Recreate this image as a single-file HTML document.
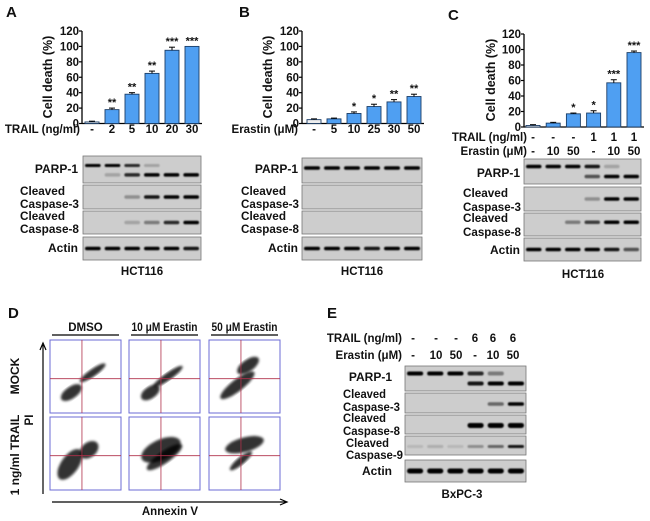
<!DOCTYPE html>
<html><head><meta charset="utf-8"><style>
body{margin:0;background:#fff;}
svg{display:block;font-family:"Liberation Sans",Arial,sans-serif;font-weight:bold;}
</style></head><body>
<svg id="fig" width="650" height="521" viewBox="0 0 650 521" xmlns="http://www.w3.org/2000/svg">
<defs>
<filter id="bl" x="-20%" y="-100%" width="140%" height="300%"><feGaussianBlur stdDeviation="0.9"/></filter>
<filter id="bl2"><feGaussianBlur stdDeviation="1.2"/></filter>
</defs>
<g id="root"></g>
</svg>
<script>
// ---- chart data ----
const catsA = ["-","2","5","10","20","30"];
const valsA = [2,18,38,65,95,100];
const errA = [1,2,2,3,4,0];
const starsA = ["","**","**","**","***","***"];
const catsB = ["-","5","10","25","30","50"];
const valsB = [5,6,13,22,28,35];
const errB = [1,1,2,3,3,3];
const starsB = ["","","*","*","**","**"];
const trailC = ["-","-","-","1","1","1"];
const erasC = ["-","10","50","-","10","50"];
const valsC = [2,5,17,18,57,96];
const errC = [1,1,1,3,4,2];
const starsC = ["","","*","*","***","***"];
const yTicks = [0,20,40,60,80,100,120];

const NS="http://www.w3.org/2000/svg";
const root=document.getElementById('root');
function el(tag,attrs,parent,txt){const e=document.createElementNS(NS,tag);for(const k in attrs)e.setAttribute(k,attrs[k]);if(txt!==undefined)e.textContent=txt;(parent||root).appendChild(e);return e;}

function text(x,y,s,size,anchor,parent,rot){
  const t=el('text',{x:x,y:y,'font-size':size,'text-anchor':anchor||'start',fill:'#111'},parent,s);
  if(rot)t.setAttribute('transform','rotate('+rot+' '+x+' '+y+')');
  return t;
}

function barChart(name,ax,y0,ytop,x0,dx,vals,errs,stars){
  const g=el('g',{});
  
  
  const sc=(y0-ytop)/120;
  const Y=v=>y0-v*sc;
  const X=i=>x0+i*dx;
  el('line',{x1:ax,y1:ytop,x2:ax,y2:y0,stroke:'#000','stroke-width':1.3},g);
  el('line',{x1:ax,y1:y0,x2:X(vals.length-1)+10,y2:y0,stroke:'#000','stroke-width':1.3},g);
  yTicks.forEach(t=>{
    el('line',{x1:ax-3,y1:Y(t),x2:ax,y2:Y(t),stroke:'#000','stroke-width':1.2},g);
    const lab=text(ax-3,Y(t)+4,String(t),11.5,'end',g);
    
    
  });
  vals.forEach((v,i)=>{
    const b=el('rect',{x:X(i)-7,y:Y(v),width:14,height:Math.max(0.5,v*sc),fill:i==0?'#eee':'#4f9ff2',stroke:'#1b3d66','stroke-width':0.9},g);
    
    
    const e=errs[i];
    if(e>0){el('line',{x1:X(i),y1:Y(v),x2:X(i),y2:Y(v+e),stroke:'#000','stroke-width':1},g);
      el('line',{x1:X(i)-3,y1:Y(v+e),x2:X(i)+3,y2:Y(v+e),stroke:'#000','stroke-width':1},g);}
    if(stars[i]){const s=text(X(i),Y(v+e)-2,stars[i],11,'middle',g);
      
      }
  });
  return {X,g};
}

[["A",6,17],["B",239,17],["C",448,20],["D",8,318],["E",327,318]].forEach(p=>{
  const t=text(p[1],p[2],p[0],15,'start');
  
  
});

const A=barChart('bar-chart-a',82,123.5,31,92,20,valsA,errA,starsA);
let t=text(52,77,"Cell death (%)",12.5,'middle',A.g,-90);


t=text(80,133,"TRAIL (ng/ml)",11.5,'end',A.g);


catsA.forEach((c,i)=>{const l=text(A.X(i),133,c,11.5,'middle',A.g);
  
  });

const B=barChart('bar-chart-b',302,123.5,31,314,20,valsB,errB,starsB);
t=text(272,77,"Cell death (%)",12.5,'middle',B.g,-90);


t=text(298,133,"Erastin (\u03BCM)",11.5,'end',B.g);


catsB.forEach((c,i)=>{const l=text(B.X(i),133,c,11.5,'middle',B.g);
  
  });

const C=barChart('bar-chart-c',524,127,34,533,20.2,valsC,errC,starsC);
t=text(495,80,"Cell death (%)",12.5,'middle',C.g,-90);


t=text(527,141,"TRAIL (ng/ml)",11.5,'end',C.g);


t=text(527,155,"Erastin (\u03BCM)",11.5,'end',C.g);


trailC.forEach((c,i)=>{const l=text(C.X(i),141,c,11.5,'middle',C.g);
  
  });
erasC.forEach((c,i)=>{const l=text(C.X(i),155,c,11.5,'middle',C.g);
  
  });

function blotBox(name,x,y,w,h,n,bands){
  const g=el('g',{});
  
  
  el('rect',{x:x,y:y,width:w,height:h,fill:'#cdcdcd',stroke:'#777','stroke-width':0.8},g);
  const lw=w/n;
  bands.forEach(b=>{
    b[1].forEach((v,i)=>{ if(v<=0)return;
      el('rect',{x:x+i*lw+2,y:y+h*b[0]-b[2]/2,width:lw-4,height:b[2],rx:b[2]/2,fill:'#000',opacity:v,filter:'url(#bl)'},g);
    });
  });
  return g;
}
function lbl(x,y,s,anchor,name,size){const l=text(x,y,s,size||11.5,anchor);
  
  
  return l;}
function fit(l,w){l.setAttribute('textLength',w);l.setAttribute('lengthAdjust','spacingAndGlyphs');}

lbl(78,173,"PARP-1",'end','parp1-label',12);
fit(lbl(20,195,"Cleaved",'start','cleaved-label'),45);
fit(lbl(20,208,"Caspase-3",'start','caspase3-label'),59);
fit(lbl(20,220,"Cleaved",'start','cleaved-label'),45);
fit(lbl(20,233,"Caspase-8",'start','caspase8-label'),59);
lbl(78,252,"Actin",'end','actin-label',12);
lbl(142,275,"HCT116",'middle','cell-line-label');
blotBox('blot-a-parp1',83,156,118,27,6,[[0.35,[1,1,0.8,0.2,0,0],3],[0.7,[0,0.2,0.8,1,1,1],3.5]]);
blotBox('blot-a-casp3',83,185,118,24,6,[[0.5,[0,0,0.3,0.9,1,1],3.5]]);
blotBox('blot-a-casp8',83,211,118,23,6,[[0.5,[0,0,0.2,0.4,0.8,1],3.5]]);
blotBox('blot-a-actin',83,237,118,23,6,[[0.5,[1,1,1,1,1,0.9],3.5]]);

lbl(298,173,"PARP-1",'end','parp1-label',12);
fit(lbl(241,195,"Cleaved",'start','cleaved-label'),45);
fit(lbl(241,208,"Caspase-3",'start','caspase3-label'),58);
fit(lbl(241,220,"Cleaved",'start','cleaved-label'),45);
fit(lbl(241,233,"Caspase-8",'start','caspase8-label'),58);
lbl(298,252,"Actin",'end','actin-label',12);
lbl(362,275,"HCT116",'middle','cell-line-label');
blotBox('blot-b-parp1',302,158,120,25,6,[[0.4,[1,1,1,1,1,1],3.5]]);
blotBox('blot-b-casp3',302,185,120,24,6,[]);
blotBox('blot-b-casp8',302,211,120,23,6,[]);
blotBox('blot-b-actin',302,237,120,23,6,[[0.5,[1,1,1,0.9,1,1],3.5]]);

lbl(520,177,"PARP-1",'end','parp1-label',12);
fit(lbl(463,197,"Cleaved",'start','cleaved-label'),45);
fit(lbl(463,211,"Caspase-3",'start','caspase3-label'),58);
fit(lbl(463,222,"Cleaved",'start','cleaved-label'),45);
fit(lbl(463,236,"Caspase-8",'start','caspase8-label'),58);
lbl(520,254,"Actin",'end','actin-label',12);
lbl(583,278,"HCT116",'middle','cell-line-label');
blotBox('blot-c-parp1',524,159,117,25,6,[[0.3,[1,1,1,0.9,0.2,0],3.5],[0.7,[0,0,0,0.6,1,1],3.5]]);
blotBox('blot-c-casp3',524,187,117,24,6,[[0.5,[0,0,0,0.3,1,1],3.5]]);
blotBox('blot-c-casp8',524,213,117,23,6,[[0.4,[0,0,0.4,0.7,1,1],3.5]]);
blotBox('blot-c-actin',524,238,117,23,6,[[0.5,[1,1,1,1,0.9,0.6],3.5]]);

// Panel E
const trailE=["-","-","-","6","6","6"], erasE=["-","10","50","-","10","50"];
const exE=[413,436,456,475,493,513];
lbl(402,342,"TRAIL (ng/ml)",'end','trail-row-title');
lbl(402,359,"Erastin (\u03BCM)",'end','erastin-row-title');
trailE.forEach((c,i)=>lbl(exE[i],342,c,'middle','trail-dose-label'));
erasE.forEach((c,i)=>lbl(exE[i],359,c,'middle','erastin-dose-label'));
lbl(392,381,"PARP-1",'end','parp1-label',12);
fit(lbl(343,398,"Cleaved",'start','cleaved-label'),43);
fit(lbl(343,411,"Caspase-3",'start','caspase3-label'),57);
fit(lbl(343,422,"Cleaved",'start','cleaved-label'),43);
fit(lbl(343,435,"Caspase-8",'start','caspase8-label'),57);
fit(lbl(346,447,"Cleaved",'start','cleaved-label'),43);
fit(lbl(346,459,"Caspase-9",'start','caspase9-label'),57);
lbl(392,475,"Actin",'end','actin-label',12);
lbl(462,498,"BxPC-3",'middle','cell-line-label');
blotBox('blot-e-parp1',405,366,121,25,6,[[0.3,[1,1,1,0.8,0.4,0],4],[0.7,[0,0,0,0.9,1,1],4]]);
blotBox('blot-e-casp3',405,393,121,20,6,[[0.55,[0,0,0,0,0.5,1],3.5]]);
blotBox('blot-e-casp8',405,415,121,19,6,[[0.55,[0,0,0,1,1,1],5]]);
blotBox('blot-e-casp9',405,436,121,19,6,[[0.55,[0.1,0.15,0.1,0.3,0.5,0.9],3]]);
blotBox('blot-e-actin',405,460,121,22,6,[[0.5,[1,1,1,1,1,1],5]]);

// Panel D - flow cytometry
const colX=[50,129,209], rowY=[340,417], pw=71, ph=73;
const heads=["DMSO","10 \u03BCM Erastin","50 \u03BCM Erastin"];
heads.forEach((h,i)=>{
  const l=lbl(colX[i]+pw/2,331,h,'middle','column-header',11.5);
  if(i>0)fit(l,66);
  const ln=el('line',{x1:colX[i]+2,y1:335,x2:colX[i]+pw-2,y2:335,stroke:'#000','stroke-width':1.2});
  
  
});
const blobs=[
 [[[0.3,0.72,0.17,0.08,-35],[0.6,0.45,0.22,0.05,-35]],[[0.3,0.72,0.15,0.08,-35],[0.55,0.5,0.25,0.05,-35]],[[0.4,0.62,0.3,0.08,-38],[0.55,0.35,0.18,0.08,-35]]],
 [[[0.28,0.65,0.25,0.12,-55],[0.55,0.45,0.15,0.1,-40]],[[0.45,0.45,0.3,0.14,-25],[0.5,0.55,0.3,0.08,-35]],[[0.5,0.38,0.28,0.1,-15],[0.45,0.6,0.2,0.05,-40]]]
];
rowY.forEach((ry,r)=>colX.forEach((cx,c)=>{
  const g=el('g',{});
  
  
  el('rect',{x:cx,y:ry,width:pw,height:ph,fill:'#fff',stroke:'#6b6bd6','stroke-width':1},g);
  blobs[r][c].forEach(b=>{
    el('ellipse',{cx:cx+b[0]*pw,cy:ry+b[1]*ph,rx:b[2]*pw,ry:b[3]*ph,transform:'rotate('+b[4]+' '+(cx+b[0]*pw)+' '+(ry+b[1]*ph)+')',fill:'#000',opacity:0.8,filter:'url(#bl2)'},g);
  });
  el('line',{x1:cx+pw*0.45,y1:ry,x2:cx+pw*0.45,y2:ry+ph,stroke:'#b0304a','stroke-width':0.8},g);
  el('line',{x1:cx,y1:ry+ph*0.53,x2:cx+pw,y2:ry+ph*0.53,stroke:'#b0304a','stroke-width':0.8},g);
}));
let ar=el('path',{d:'M43 494 L43 345 M40 350 L43 343 L46 350',stroke:'#000','stroke-width':1.2,fill:'none'});


ar=el('path',{d:'M52 502 L286 502 M280 499 L287 502 L280 505',stroke:'#000','stroke-width':1.2,fill:'none'});


t=text(170,515,"Annexin V",11.5,'middle');


t=text(33,420,"PI",11.5,'middle',null,-90);


t=text(19,376,"MOCK",12,'middle',null,-90);


t=text(19,455,"1 ng/ml TRAIL",12,'middle',null,-90);


</script>
</body></html>
